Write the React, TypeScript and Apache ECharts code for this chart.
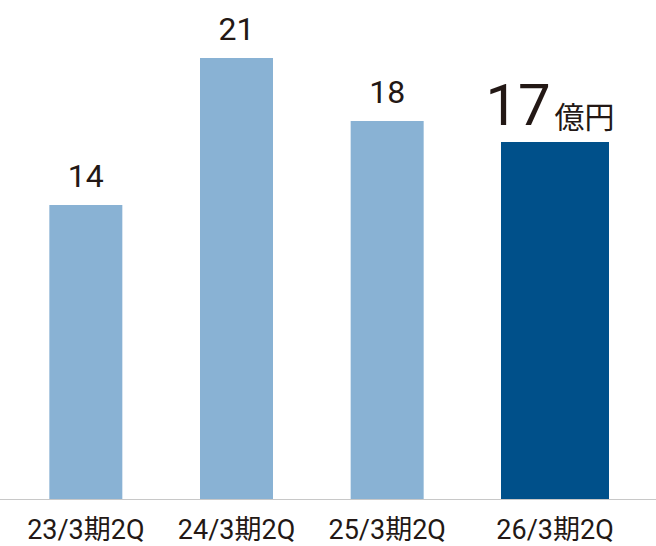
import React, { useEffect, useRef } from "react";
import * as echarts from "echarts";

const categories = ["23/3期2Q", "24/3期2Q", "25/3期2Q", "26/3期2Q"];
const values = [14, 21, 18, 17];
const unit = "億円";
const yMax = 22;

const FONT = "Roboto, 'Noto Sans CJK JP', sans-serif";
const TEXT = "#231815";
const LIGHT = "#89b2d4";
const DARK = "#00508a";

export default function App() {
  const ref = useRef<HTMLDivElement>(null);
  useEffect(() => {
    document.body.style.margin = "0";
    if (!ref.current) return;
    const chart = echarts.init(ref.current, undefined, { renderer: "svg" });
    const pastCats = categories.slice(0, 3);
    const pastVals = values.slice(0, 3);
    const curCats = categories.slice(3);
    const curVals = values.slice(3);
    const xAxisCommon = {
      type: "category" as const,
      axisLine: { show: false },
      axisTick: { show: false },
      axisLabel: { fontSize: 27, color: TEXT, fontFamily: FONT, margin: 17, interval: 0 },
    };
    const yAxisCommon = {
      type: "value" as const,
      min: 0,
      max: yMax,
      show: false,
      splitLine: { show: false },
    };
    chart.setOption({
      animation: false,
      grid: [
        { left: 10.5, right: 193.5, top: 37, bottom: 47 },
        { left: 480, width: 150, top: 37, bottom: 47 },
      ],
      xAxis: [
        { ...xAxisCommon, gridIndex: 0, data: pastCats },
        { ...xAxisCommon, gridIndex: 1, data: curCats },
      ],
      yAxis: [
        { ...yAxisCommon, gridIndex: 0 },
        { ...yAxisCommon, gridIndex: 1 },
      ],
      graphic: [
        {
          type: "line",
          shape: { x1: 0, y1: 499.5, x2: 656, y2: 499.5 },
          style: { stroke: "#c8c8c8", lineWidth: 1 },
          z: 10,
        },
      ],
      series: [
        {
          type: "bar",
          xAxisIndex: 0,
          yAxisIndex: 0,
          data: pastVals,
          barWidth: 73,
          itemStyle: { color: LIGHT },
          label: {
            show: true,
            position: "top",
            distance: 13,
            fontSize: 32,
            color: TEXT,
            fontFamily: FONT,
          },
        },
        {
          type: "bar",
          xAxisIndex: 1,
          yAxisIndex: 1,
          data: curVals,
          barWidth: 108,
          itemStyle: { color: DARK },
          label: {
            show: true,
            position: "top",
            distance: 8,
            offset: [-5, 0],
            formatter: (p: any) => `{a|${p.value}}{b|${unit}}`,
            rich: {
              a: {
                fontSize: 58,
                color: TEXT,
                fontFamily: FONT,
                verticalAlign: "bottom",
                padding: [0, 4, 0, 0],
              },
              b: {
                fontSize: 30,
                color: TEXT,
                fontFamily: FONT,
                verticalAlign: "bottom",
                padding: [0, 0, 2, 0],
              },
            },
          },
        },
      ],
    });
    return () => chart.dispose();
  }, []);
  return <div ref={ref} style={{ width: 656, height: 546 }} />;
}
